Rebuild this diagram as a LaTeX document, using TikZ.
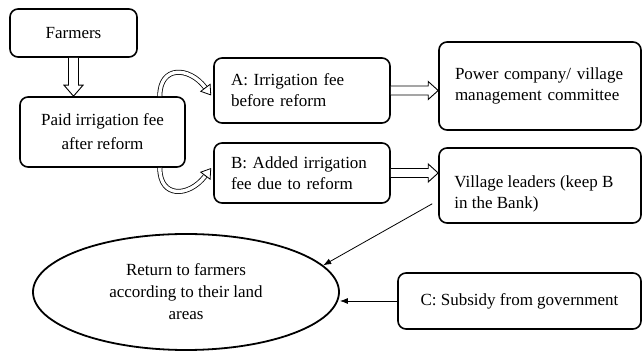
\documentclass[tikz,border=0pt]{standalone}
\usepackage{fontspec}
\setmainfont{Liberation Serif}
\usetikzlibrary{arrows.meta,calc,shapes.geometric}
\begin{document}
\begin{tikzpicture}[x=1pt,y=-1pt,
  txt/.style={font=\fontsize{17}{21}\selectfont, inner sep=0pt},
  box/.style={draw, rounded corners=8pt, line width=1.6pt, inner sep=0pt, font=\fontsize{17}{21}\selectfont},
  hollowpoly/.style={draw, fill=white, line width=0.9pt, line join=miter},
  hollowsmall/.style={draw, line width=0.8pt, double=white, double distance=3.4pt},
  smalltip/.style={line width=0.8pt, -{Triangle[open, length=10pt, width=13pt]}},
  thinarrow/.style={line width=0.8pt, -{Latex[length=8pt, width=6pt]}}]
\useasboundingbox (0,0) rectangle (643,352);

% nodes
\node[box, minimum width=127pt, minimum height=48pt] (farmers) at (73.5,33) {Farmers};
\node[box, minimum width=165pt, minimum height=70pt, align=center, font=\fontsize{17}{24}\selectfont] (paid) at (102.5,132) {Paid irrigation fee\\after reform};
\node[box, text width=142pt, inner xsep=17pt, minimum height=65pt, align=left] (A) at (302,90.5) {A: Irrigation fee\\before reform};
\node[box, text width=142pt, inner xsep=17pt, minimum height=60pt, align=left] (B) at (302,173) {B: Added irrigation\\fee due to reform};
\node[box, text width=170pt, inner xsep=16pt, minimum height=88pt, align=left] (power) at (540,86) {Power company/ village\\management committee};
\node[box, minimum width=202pt, minimum height=75pt] (vl) at (540,185.5) {};
\node[txt, anchor=west, align=left] (vltext) at ($(vl.west)+(16,8)$) {Village leaders (keep B\\in the Bank)};
\node[box, minimum width=243pt, minimum height=56pt] (cb) at (519.5,301) {C: Subsidy from government};
\node[draw, ellipse, line width=1.8pt, minimum width=306pt, minimum height=116pt, inner sep=0pt, align=center, font=\fontsize{17}{22}\selectfont] (ell) at (186,292) {Return to farmers\\according to their land\\areas};

% straight hollow arrows
\coordinate (fs) at (farmers.south);
\coordinate (ft) at (farmers.south |- paid.north);
\draw[hollowpoly] ($(fs)+(-5,0)$) -- ($(ft)+(-5,-11)$) -- ($(ft)+(-9.5,-11)$) -- (ft)
  -- ($(ft)+(9.5,-11)$) -- ($(ft)+(5,-11)$) -- ($(fs)+(5,0)$);
\coordinate (as) at (A.east);
\coordinate (at) at (A.east -| power.west);
\draw[hollowpoly] ($(as)+(0,-4.5)$) -- ($(at)+(-10,-4.5)$) -- ($(at)+(-10,-9)$) -- (at)
  -- ($(at)+(-10,9)$) -- ($(at)+(-10,4.5)$) -- ($(as)+(0,4.5)$);
\coordinate (bs) at (B.east);
\coordinate (bt) at (B.east -| vl.west);
\draw[hollowpoly] ($(bs)+(0,-4.5)$) -- ($(bt)+(-10,-4.5)$) -- ($(bt)+(-10,-9)$) -- (bt)
  -- ($(bt)+(-10,9)$) -- ($(bt)+(-10,4.5)$) -- ($(bs)+(0,4.5)$);

% curved hollow arrows
\coordinate (s1) at ($(paid.north east)+(-26,0)$);
\coordinate (t1) at ($(A.west)+(-2,5)$);
\coordinate (b1) at ($(t1)+(-6,-8)$);
\draw[hollowsmall] (s1) .. controls ($(s1)+(0,-31)$) and ($(b1)+(-16,-21)$) .. (b1);
\draw[smalltip] (b1) -- (t1);
\coordinate (s2) at ($(paid.south east)+(-26,0)$);
\coordinate (t2) at ($(B.west)+(-2,-5)$);
\coordinate (b2) at ($(t2)+(-6,8)$);
\draw[hollowsmall] (s2) .. controls ($(s2)+(0,31)$) and ($(b2)+(-16,21)$) .. (b2);
\draw[smalltip] (b2) -- (t2);

% thin arrows
\coordinate (vs) at ($(vl.south west)+(-6,-20)$);
\draw[thinarrow] (vs) -- (ell.11);
\draw[thinarrow] (cb.west) -- (cb.west -| ell.east);
\end{tikzpicture}
\end{document}
